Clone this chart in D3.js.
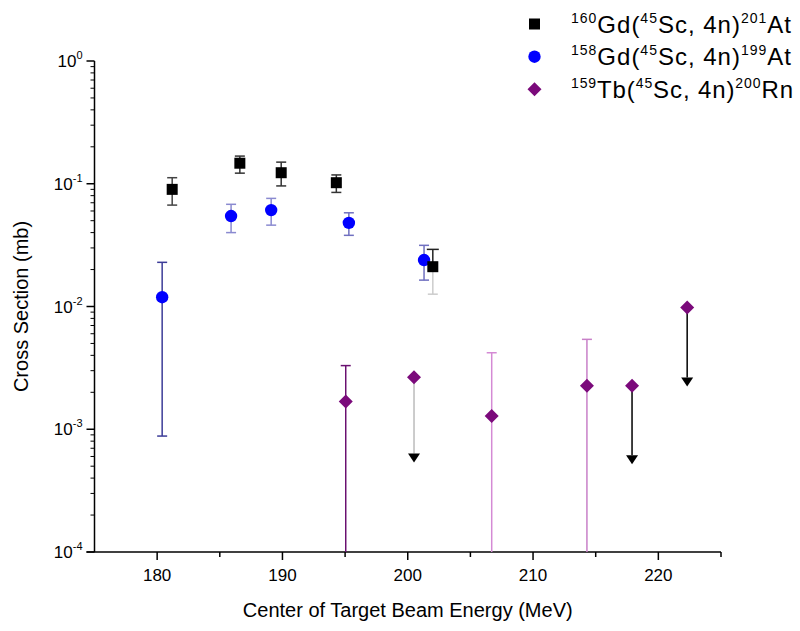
<!DOCTYPE html>
<html><head><meta charset="utf-8">
<script src="https://cdn.jsdelivr.net/npm/d3@7"></script>
<style>body{margin:0;background:#fff;} text{font-family:"Liberation Sans",Arial,sans-serif;}</style>
</head><body><svg id="c" width="800" height="631"></svg>
<script>
// ---- data ----
const gd160Energy = [181.2, 186.6, 189.9, 194.3, 202.0];
const gd160Value  = [0.090, 0.147, 0.123, 0.102, 0.0211];
const gd160ErrLo  = [0.067, 0.122, 0.096, 0.085, 0.0126];
const gd160ErrHi  = [0.112, 0.168, 0.150, 0.118, 0.0292];

const gd158Energy = [180.4, 185.9, 189.1, 195.3, 201.3];
const gd158Value  = [0.0119, 0.0546, 0.061, 0.048, 0.0239];
const gd158ErrLo  = [0.00088, 0.040, 0.046, 0.038, 0.0164];
const gd158ErrHi  = [0.0229, 0.068, 0.076, 0.058, 0.0315];

const tb159Energy = [195.05, 200.5, 206.7, 214.3, 217.9, 222.3];
const tb159Value  = [0.00168, 0.00265, 0.00128, 0.00226, 0.00226, 0.0098];
const tb159ErrLo  = [1e-5, null, 1e-5, 1e-5, null, null];
const tb159ErrHi  = [0.0033, null, 0.0042, 0.0054, null, null];
const tb159Limit  = [null, 0.00059, null, null, 0.00057, 0.00245];

const xTicks = [180, 190, 200, 210, 220];
const xMinorTicks = [185, 195, 205, 215, 225];
const yTickExp = [0, -1, -2, -3, -4];

const legendLabels = [
  [["160",1],["Gd(",0],["45",1],["Sc, 4n)",0],["201",1],["At",0]],
  [["158",1],["Gd(",0],["45",1],["Sc, 4n)",0],["199",1],["At",0]],
  [["159",1],["Tb(",0],["45",1],["Sc, 4n)",0],["200",1],["Rn",0]]
];

// ---- styles ----
const gd160BarColors = ["#444","#333","#333","#333","#333"];
const gd158BarColors = ["#3c3c98","#8a8ad0","#8a8ad0","#7070c0","#7070c0"];
const tb159BarColors = ["#6a1070",null,"#d48ad4","#c880c8",null,null];
const tb159ArrowColors = [null,"#bbb",null,null,"#000","#000"];

const svg = d3.select("#c");
const L = 94.5, R = 721, T = 61, B = 552;
const x = d3.scaleLinear().domain([175, 225]).range([L, R]);
const y = d3.scaleLog().domain([1e-4, 1]).range([B, T]);
const yc = v => y(Math.max(1e-4, v));

// axes
const gx = svg.append("g").attr("transform", `translate(0,${B})`);
gx.append("line").attr("x1", L - 8).attr("x2", R).attr("stroke", "#000").attr("stroke-width", 1.5);
xTicks.forEach(t => {
  gx.append("line").attr("x1", x(t)).attr("x2", x(t)).attr("y1", 0).attr("y2", 8).attr("stroke", "#000").attr("stroke-width", 1.5);
  gx.append("text").attr("x", x(t)).attr("y", 29).attr("text-anchor", "middle").attr("font-size", 17).text(t);
});
xMinorTicks.forEach(t => {
  gx.append("line").attr("x1", x(t)).attr("x2", x(t)).attr("y1", 0).attr("y2", 5).attr("stroke", "#000").attr("stroke-width", 1.5);
});
svg.append("text").attr("x", (L + R) / 2 + 0).attr("y", 617).attr("text-anchor", "middle").attr("font-size", 20)
  .text("Center of Target Beam Energy (MeV)");

const gy = svg.append("g");
gy.append("line").attr("x1", L).attr("x2", L).attr("y1", T).attr("y2", B).attr("stroke", "#000").attr("stroke-width", 1.5);
yTickExp.forEach(e => {
  const yy = y(Math.pow(10, e));
  gy.append("line").attr("x1", L - 8).attr("x2", L).attr("y1", yy).attr("y2", yy).attr("stroke", "#000").attr("stroke-width", 1.5);
  const t = gy.append("text").attr("x", L - 12).attr("y", yy + 6).attr("text-anchor", "end").attr("font-size", 17);
  t.append("tspan").text("10");
  t.append("tspan").attr("font-size", 11).attr("dy", -8).text(e === 0 ? "0" : "-" + (-e));
  if (e > -4) {
    for (let m = 2; m <= 9; m++) {
      const ym = y(m * Math.pow(10, e - 1));
      gy.append("line").attr("x1", L - 4).attr("x2", L).attr("y1", ym).attr("y2", ym).attr("stroke", "#000").attr("stroke-width", 1);
    }
  }
});
svg.append("text").attr("transform", `translate(28,${(T + B) / 2}) rotate(-90)`).attr("text-anchor", "middle").attr("font-size", 20)
  .text("Cross Section (mb)");

// error bars helper
function errBar(xv, lo, hi, color) {
  const g = svg.append("g").attr("stroke", color).attr("stroke-width", 1.5);
  g.append("line").attr("x1", x(xv)).attr("x2", x(xv)).attr("y1", yc(lo)).attr("y2", yc(hi));
  if (hi !== null) g.append("line").attr("x1", x(xv) - 5).attr("x2", x(xv) + 5).attr("y1", yc(hi)).attr("y2", yc(hi));
  if (lo > 1e-4) g.append("line").attr("x1", x(xv) - 5).attr("x2", x(xv) + 5).attr("y1", yc(lo)).attr("y2", yc(lo));
}

gd160Energy.forEach((e, i) => {
  if (i === 4) {
    errBar(e, gd160ErrLo[i], gd160Value[i], "#ccc");
    const g = svg.append("g").attr("stroke", "#222").attr("stroke-width", 1.5);
    g.append("line").attr("x1", x(e)).attr("x2", x(e)).attr("y1", y(gd160Value[i])).attr("y2", y(gd160ErrHi[i]));
    g.append("line").attr("x1", x(e) - 6).attr("x2", x(e) + 6).attr("y1", y(gd160ErrHi[i])).attr("y2", y(gd160ErrHi[i]));
  } else errBar(e, gd160ErrLo[i], gd160ErrHi[i], gd160BarColors[i]);
});
gd158Energy.forEach((e, i) => errBar(e, gd158ErrLo[i], gd158ErrHi[i], gd158BarColors[i]));
tb159Energy.forEach((e, i) => { if (tb159ErrHi[i] !== null) errBar(e, tb159ErrLo[i], tb159ErrHi[i], tb159BarColors[i]); });

// upper-limit arrows
tb159Energy.forEach((e, i) => {
  if (tb159Limit[i] === null) return;
  svg.append("line").attr("x1", x(e)).attr("x2", x(e)).attr("y1", y(tb159Value[i])).attr("y2", y(tb159Limit[i]) - 4)
    .attr("stroke", tb159ArrowColors[i]).attr("stroke-width", 1.5);
  svg.append("path").attr("transform", `translate(${x(e)},${y(tb159Limit[i])})`)
    .attr("d", "M-6,-4 L6,-4 L0,5 Z").attr("fill", "#000");
});

// markers
gd158Energy.forEach((e, i) => svg.append("circle").attr("cx", x(e)).attr("cy", y(gd158Value[i])).attr("r", 6.2).attr("fill", "#0000ff"));
gd160Energy.forEach((e, i) => svg.append("rect").attr("x", x(e) - 5.5).attr("y", y(gd160Value[i]) - 5.5).attr("width", 11).attr("height", 11).attr("fill", "#000"));
tb159Energy.forEach((e, i) => svg.append("path").attr("transform", `translate(${x(e)},${y(tb159Value[i])})`)
  .attr("d", "M0,-7 L7,0 L0,7 L-7,0 Z").attr("fill", "#7b0a7b"));

// legend
const lg = svg.append("g");
const ly = [24, 56.7, 89.3];
lg.append("rect").attr("x", 529).attr("y", ly[0] - 5.5).attr("width", 11).attr("height", 11).attr("fill", "#000");
lg.append("circle").attr("cx", 534.5).attr("cy", ly[1]).attr("r", 6.2).attr("fill", "#0000ff");
lg.append("path").attr("transform", `translate(534.5,${ly[2]})`).attr("d", "M0,-7 L7,0 L0,7 L-7,0 Z").attr("fill", "#7b0a7b");
legendLabels.forEach((parts, i) => {
  const t = lg.append("text").attr("x", 571).attr("y", ly[i] + 8.5).attr("font-size", 24)
    .attr("textLength", i === 2 ? 222 : 220).attr("lengthAdjust", "spacing");
  let sup = false;
  parts.forEach(([s, isSup]) => {
    const ts = t.append("tspan").text(s);
    if (isSup && !sup) { ts.attr("font-size", 14).attr("dy", -10); sup = true; }
    else if (isSup) { ts.attr("font-size", 14); }
    else if (!isSup && sup) { ts.attr("dy", 10); sup = false; }
  });
});
</script></body></html>
